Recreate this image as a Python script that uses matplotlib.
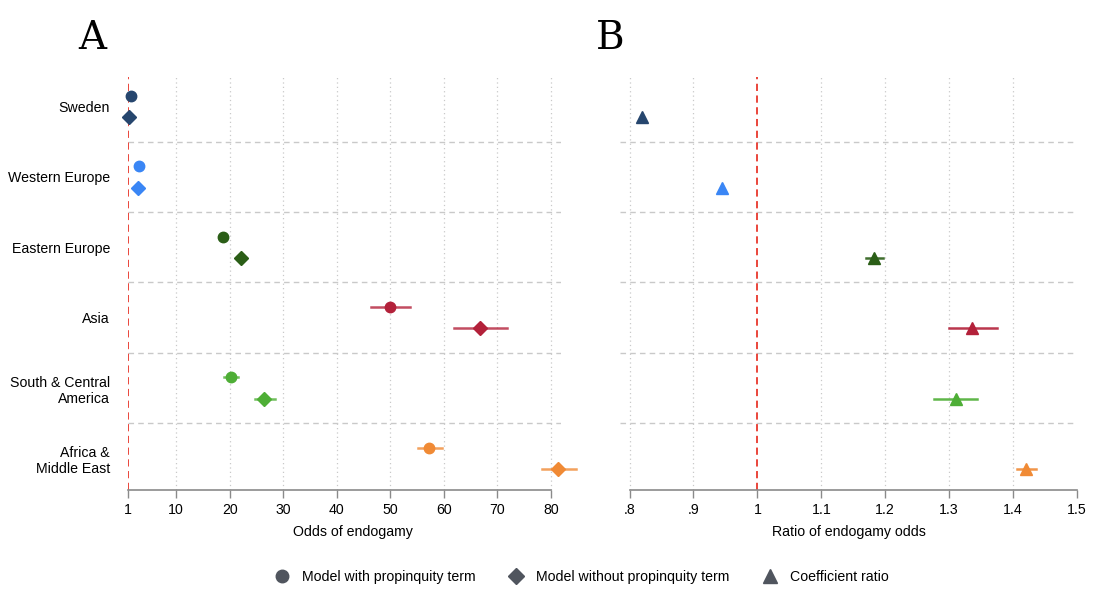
import matplotlib
matplotlib.use("Agg")
import matplotlib.pyplot as plt
from matplotlib.lines import Line2D
import numpy as np

plt.rcParams["font.family"] = ["Liberation Sans", "DejaVu Sans"]

regions = ["Sweden", "Western Europe", "Eastern Europe", "Asia",
           "South & Central\nAmerica", "Africa &\nMiddle East"]
colors = ["#26466e", "#3a86f5", "#2b5e17", "#b3213a", "#4eae36", "#f08a35"]

# odds of endogamy, model with propinquity term
with_prop = [1.5, 3.1, 18.7, 49.9, 20.2, 57.2]
with_lo = [1.5, 3.1, 18.7, 46.4, 18.9, 55.1]
with_hi = [1.5, 3.1, 18.7, 53.7, 21.6, 59.6]

# odds of endogamy, model without propinquity term
without_prop = [1.25, 2.93, 22.2, 66.7, 26.4, 81.4]
without_lo = [1.25, 2.93, 22.2, 62.0, 24.7, 78.3]
without_hi = [1.25, 2.93, 22.2, 71.8, 28.4, 84.7]

# ratio of coefficients
ratio = [0.819, 0.944, 1.183, 1.336, 1.310, 1.420]
ratio_lo = [0.819, 0.944, 1.170, 1.300, 1.276, 1.406]
ratio_hi = [0.819, 0.944, 1.196, 1.375, 1.343, 1.436]

xticks_a = [1, 10, 20, 30, 40, 50, 60, 70, 80]
xticks_b = [0.8, 0.9, 1.0, 1.1, 1.2, 1.3, 1.4, 1.5]
xticklabels_b = [".8", ".9", "1", "1.1", "1.2", "1.3", "1.4", "1.5"]

fig = plt.figure(figsize=(11, 6.02), dpi=100)
axA = fig.add_axes([0.1164, 0.186, 0.3936, 0.686])
axB = fig.add_axes([0.5636, 0.186, 0.4155, 0.686])

n = len(regions)
ypos = np.arange(n)
off = 0.15
grid_col = "#c9c9c9"


def style(ax, xlim, ticks, labels, sep_x, last_grid):
    ax.set_xlim(*xlim)
    ax.set_ylim(n - 1 + off + 0.30, -off - 0.27)
    for s in ["left", "right", "top"]:
        ax.spines[s].set_visible(False)
    ax.spines["bottom"].set_color("#8a8a8a")
    ax.spines["bottom"].set_linewidth(1.2)
    ax.spines["bottom"].set_bounds(ticks[0], ticks[-1])
    ax.set_xticks(ticks)
    ax.set_xticklabels(labels, fontsize=10.2)
    ax.tick_params(axis="x", length=6, width=1, color="#8a8a8a", pad=3)
    for t in ticks:
        if t == 1 or (t == ticks[-1] and not last_grid):
            continue
        ax.axvline(t, color=grid_col, lw=0.9, ls=(0, (1, 2.5)), zorder=0)
    for i in range(n - 1):
        ax.plot(sep_x, [i + 0.5, i + 0.5], color=grid_col, lw=1.0,
                ls=(0, (4, 3)), zorder=0)
    ax.axvline(1, color="#e8372c", lw=1.3, ls=(0, (4, 2.5)), zorder=1)


style(axA, (1, 81.9), xticks_a, [str(t) for t in xticks_a], [1, 81.9], True)
style(axB, (0.785, 1.5), xticks_b, xticklabels_b, [0.785, 1.5], False)

for i in range(n):
    c = colors[i]
    y1 = ypos[i] - off
    y2 = ypos[i] + off
    axA.plot([with_lo[i], with_hi[i]], [y1, y1], color=c, lw=1.8, alpha=0.8,
             clip_on=False, zorder=2)
    axA.plot(with_prop[i], y1, "o", color=c, ms=7.5, clip_on=False, zorder=3)
    axA.plot([without_lo[i], without_hi[i]], [y2, y2], color=c, lw=1.8,
             alpha=0.8, clip_on=False, zorder=2)
    axA.plot(without_prop[i], y2, "D", color=c, ms=7, clip_on=False, zorder=3)
    axB.plot([ratio_lo[i], ratio_hi[i]], [y2, y2], color=c, lw=1.8, alpha=0.9,
             clip_on=False, zorder=2)
    axB.plot(ratio[i], y2, "^", color=c, ms=8, clip_on=False, zorder=3)

axA.set_yticks(ypos)
axA.set_yticklabels(regions, fontsize=10.2, multialignment="right")
axA.tick_params(axis="y", length=0, pad=13)
axB.set_yticks([])

axA.set_xlabel("Odds of endogamy", fontsize=10.2)
axB.set_xlabel("Ratio of endogamy odds", fontsize=10.2)
axA.xaxis.set_label_coords(0.52, -0.085)
axB.xaxis.set_label_coords(0.5, -0.085)

# panel letters in a slab serif
fig.text(0.084, 0.936, "A", fontsize=28, family="DejaVu Serif",
         ha="center", va="center")
fig.text(0.555, 0.936, "B", fontsize=28, family="DejaVu Serif",
         ha="center", va="center")

mcol = "#50555e"
handles = [
    Line2D([], [], ls="none", marker="o", color=mcol, ms=9),
    Line2D([], [], ls="none", marker="D", color=mcol, ms=8),
    Line2D([], [], ls="none", marker="^", color=mcol, ms=10),
]
fig.legend(handles, ["Model with propinquity term",
                     "Model without propinquity term", "Coefficient ratio"],
           loc="center", bbox_to_anchor=(0.529, 0.041), ncol=3, frameon=False,
           fontsize=10.2, handlelength=1.0, handletextpad=0.9,
           columnspacing=2.35)

plt.savefig("out.png", dpi=100)
